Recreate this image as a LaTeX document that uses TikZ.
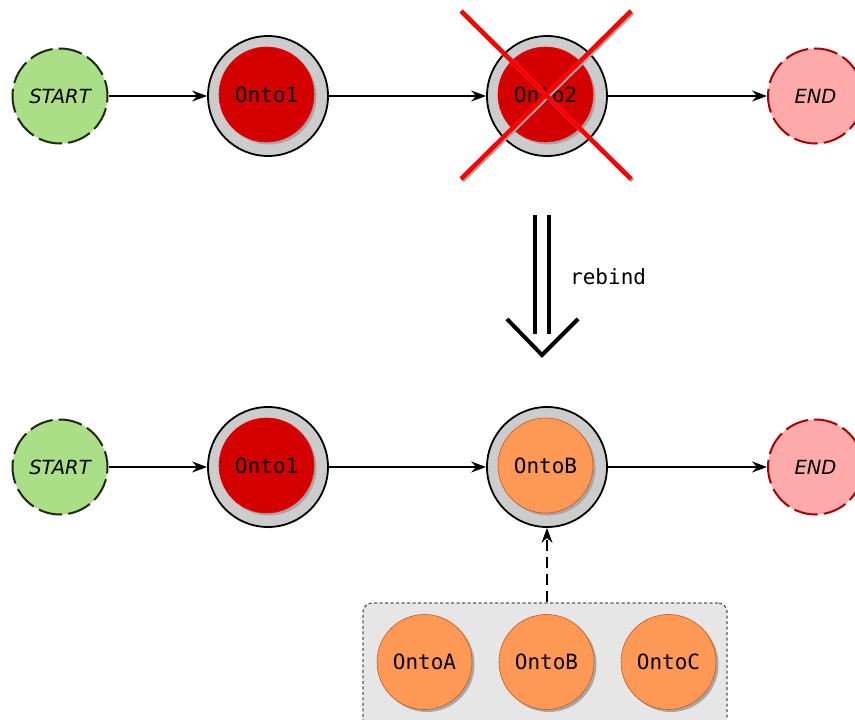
\documentclass[tikz,border=0pt]{standalone}
\usepackage{fontspec}
\setmainfont{DejaVu Sans}
\newfontfamily\monofont{DejaVu Sans Mono}
\usetikzlibrary{arrows.meta,shadows}
\definecolor{startfill}{HTML}{AADE87}
\definecolor{startdraw}{HTML}{1C2A10}
\definecolor{endfill}{HTML}{FFAAAA}
\definecolor{enddraw}{HTML}{AA0000}
\definecolor{ontored}{HTML}{D40000}
\definecolor{ontoorange}{HTML}{FF9955}
\definecolor{orangedraw}{HTML}{C85A1E}
\definecolor{ringfill}{HTML}{CCCCCC}
\definecolor{boxfill}{HTML}{E6E6E6}
\tikzset{
  terminal/.style={circle, minimum size=95pt, inner sep=0pt, line width=2pt,
    dash pattern=on 24pt off 6pt, dash phase=8pt, font=\itshape\fontsize{19.5}{19.5}\selectfont},
  startnode/.style={terminal, fill=startfill, draw=startdraw},
  endnode/.style={terminal, fill=endfill, draw=enddraw},
  ring/.style={circle, minimum size=120pt, inner sep=0pt, fill=ringfill, draw=black, line width=1.8pt},
  core/.style={circle, minimum size=95pt, inner sep=0pt, line width=0.6pt,
    drop shadow={shadow xshift=2.5pt, shadow yshift=-2.5pt, fill=black!35, opacity=1},
    font=\monofont\fontsize{21}{21}\selectfont},
  redcore/.style={core, fill=ontored, draw=red!60!ontored},
  orangecore/.style={core, fill=ontoorange, draw=orangedraw},
  tip/.style={-{Stealth[length=15pt,width=11pt,inset=5pt]}},
  flow/.style={tip, line width=1.6pt},
  crossline/.style={line width=4.5pt, draw=red},
  crossshadow/.style={line width=4.5pt, draw=black!35},
  bigarrow/.style={line width=4pt, line cap=butt},
}
\begin{document}
\begin{tikzpicture}[x=1pt,y=-1pt]
\useasboundingbox (0,0) rectangle (855,720);

% ---- before rebinding ----
\node[startnode] (s1) at (60,96) {START};
\node[ring] (r1) at (268,96) {};
\node[redcore] (c1) at (266.5,94.5) {Onto1};
\node[ring] (r2) at (547,96) {};
\node[redcore] (c2) at (545.5,94.5) {Onto2};
\node[endnode] (e1) at (815.5,96) {END};
\draw[flow] (s1) -- (r1);
\draw[flow] (r1) -- (r2);
\draw[flow] (r2) -- (e1);

% removed step
\coordinate (xa) at (461,11);
\coordinate (xb) at (631,179);
\coordinate (xc) at (631,11);
\coordinate (xd) at (461,179);
\draw[crossshadow] ([shift={(1.5,1.5)}]xa) -- ([shift={(1.5,1.5)}]xb);
\draw[crossshadow] ([shift={(1.5,1.5)}]xc) -- ([shift={(1.5,1.5)}]xd);
\draw[crossline] (xa) -- (xb);
\draw[crossline] (xc) -- (xd);

% rebind arrow
\coordinate (ra) at (535,215);
\coordinate (rb) at (535,334);
\coordinate (rc) at (549,215);
\coordinate (rd) at (549,334);
\coordinate (vl) at (507,319);
\coordinate (vt) at (542,355);
\coordinate (vr) at (578,319);
\draw[bigarrow] (ra) -- (rb);
\draw[bigarrow] (rc) -- (rd);
\draw[bigarrow, line join=miter] (vl) -- (vt) -- (vr);
\node[font=\monofont\fontsize{21}{21}\selectfont, anchor=west, inner sep=0pt] (rl) at (570,277) {rebind};

% ---- after rebinding ----
\node[startnode] (s2) at (60,467) {START};
\node[ring] (r3) at (268,467) {};
\node[redcore] (c3) at (266.5,465.5) {Onto1};
\node[ring] (r4) at (547,467) {};
\node[orangecore] (c4) at (545.5,465.5) {OntoB};
\node[endnode] (e2) at (815.5,467) {END};
\draw[flow] (s2) -- (r3);
\draw[flow] (r3) -- (r4);
\draw[flow] (r4) -- (e2);

% candidate pool
\node[draw=black!65, fill=boxfill, line width=1.3pt, dash pattern=on 3pt off 2.5pt,
      rounded corners=9pt, minimum width=364pt, minimum height=130pt, inner sep=0pt]
      (pool) at (545,668) {};
\node[orangecore] (oa) at (424.5,662) {OntoA};
\node[orangecore] (ob) at (546.5,662) {OntoB};
\node[orangecore] (oc) at (668.5,662) {OntoC};
\draw[tip, line width=1.6pt, dash pattern=on 11pt off 6pt]
  (pool.north -| r4) -- (r4.south);
\end{tikzpicture}
\end{document}
